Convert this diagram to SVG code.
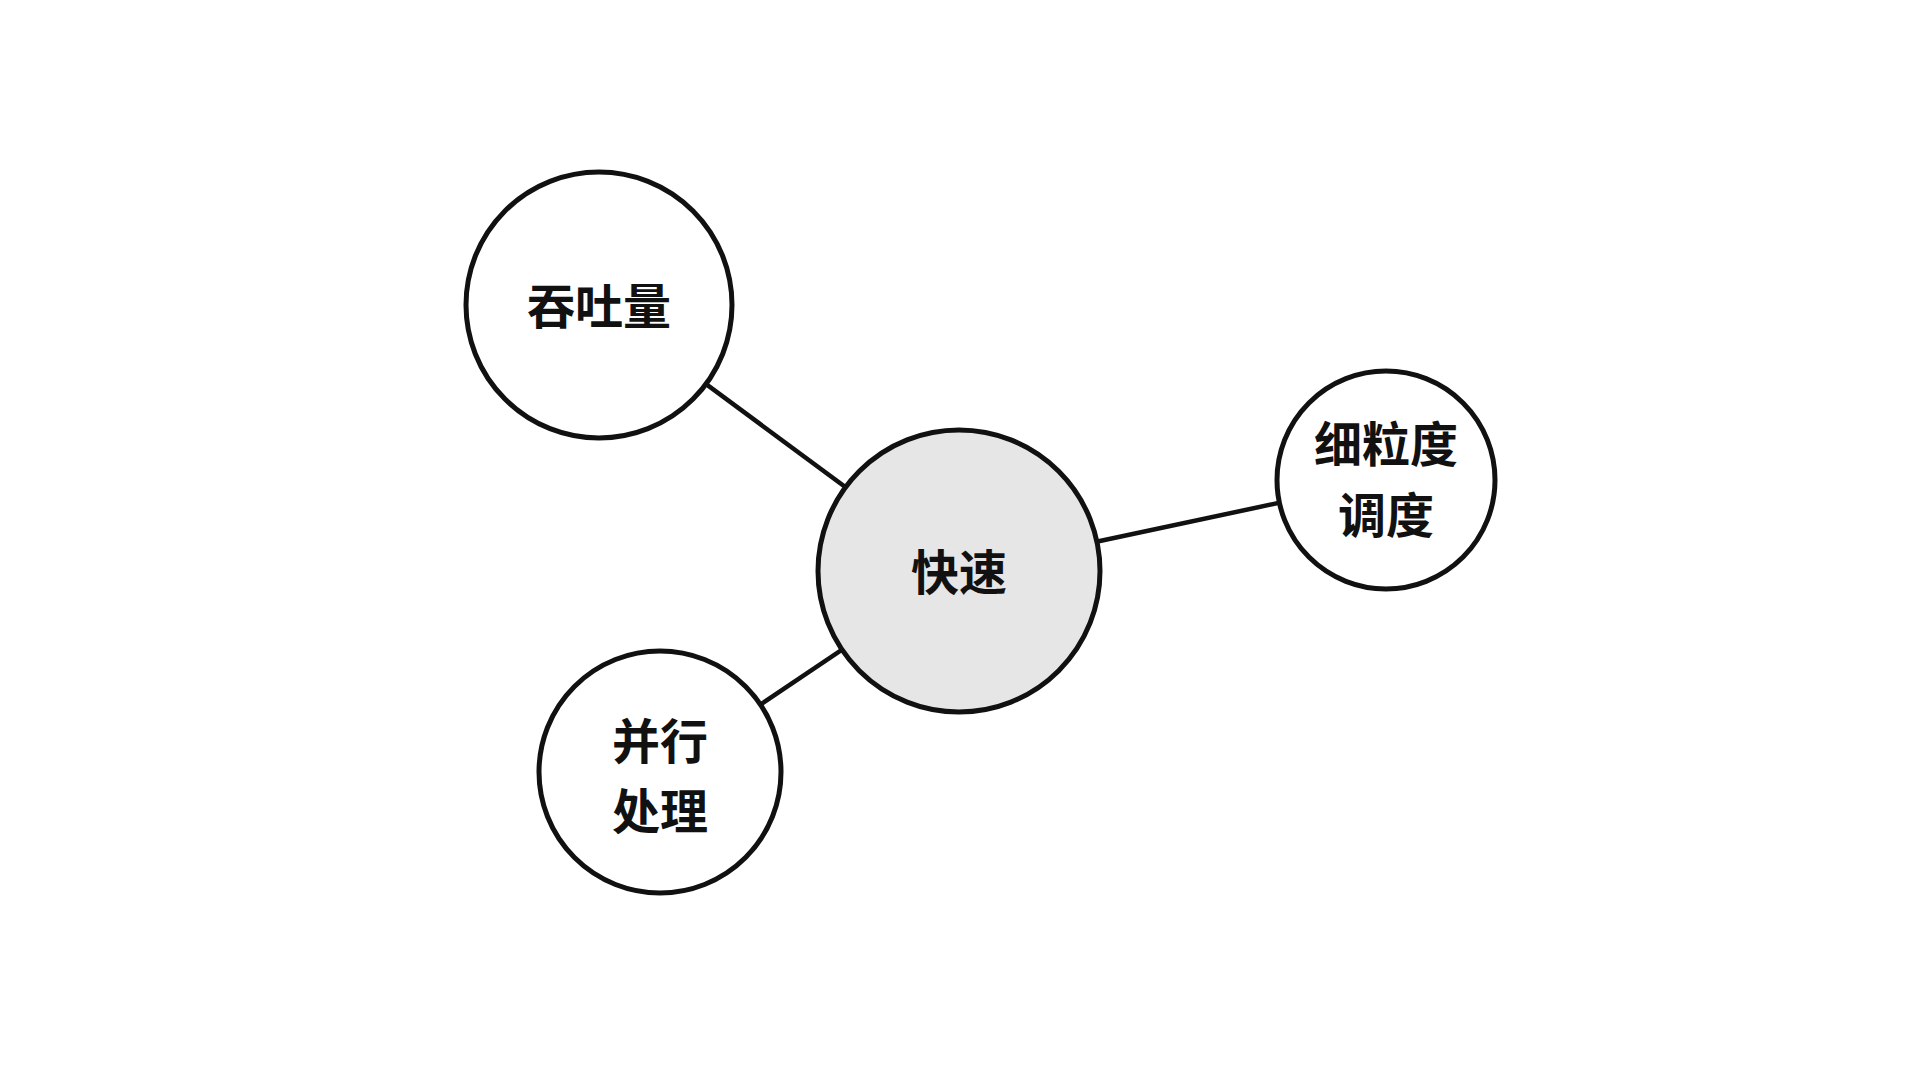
<svg xmlns="http://www.w3.org/2000/svg" width="1920" height="1080" viewBox="0 0 1920 1080">
<style>
.node{stroke:#111;stroke-width:5;fill:#fff}
.center{fill:#e6e6e6}
.edge{stroke:#111;stroke-width:4.5;fill:none}
text{font-family:"Noto Sans CJK SC","Noto Sans",sans-serif;font-size:48px;font-weight:700;fill:#111;text-anchor:middle;dominant-baseline:central}
</style>
<rect width="1920" height="1080" fill="#fff"/>
<g id="connectors">
<line class="edge" x1="959" y1="571" x2="599" y2="305"/>
<line class="edge" x1="959" y1="571" x2="1386" y2="480"/>
<line class="edge" x1="959" y1="571" x2="660" y2="772"/>
</g>
<g id="node-throughput">
<circle class="node" cx="599" cy="305" r="133"/>
<text x="599" y="303">吞吐量</text>
</g>
<g id="node-fine">
<circle class="node" cx="1386" cy="480" r="109"/>
<text x="1386" y="441">细粒度</text>
<text x="1386" y="512">调度</text>
</g>
<g id="node-parallel">
<circle class="node" cx="660" cy="772" r="121"/>
<text x="660" y="738">并行</text>
<text x="660" y="808">处理</text>
</g>
<g id="node-fast">
<circle class="node center" cx="959" cy="571" r="141"/>
<text x="959" y="569">快速</text>
</g>
</svg>
